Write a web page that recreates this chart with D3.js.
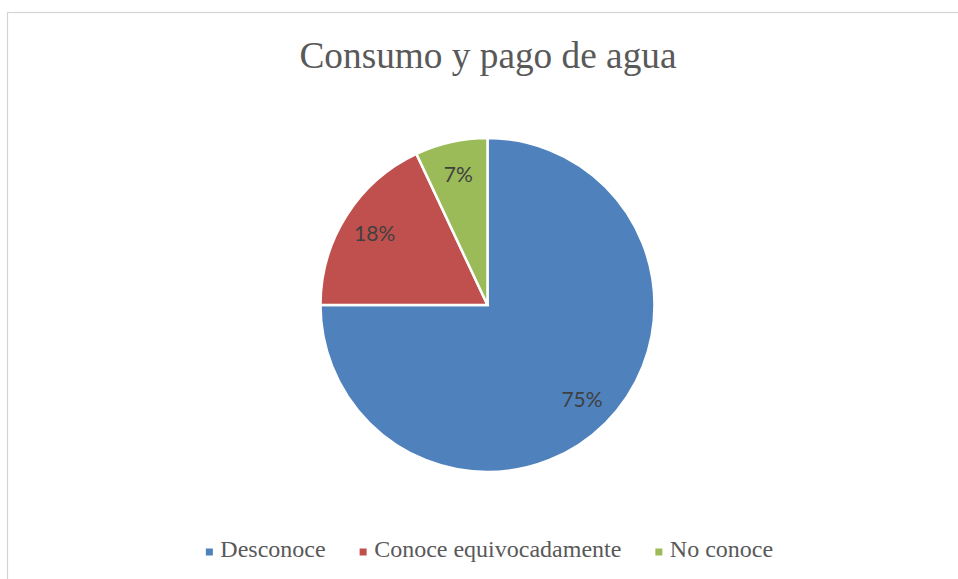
<!DOCTYPE html>
<html>
<head>
<meta charset="utf-8">
<script src="https://cdn.jsdelivr.net/npm/d3@7"></script>
<style>
  html, body { margin: 0; padding: 0; background: #fff; }
  svg { display: block; }
</style>
</head>
<body>
<svg id="chart" width="958" height="579"></svg>
<script>
// Chart data
const title = "Consumo y pago de agua";
const categories = ["Desconoce", "Conoce equivocadamente", "No conoce"];
const values = [75, 18, 7];
const colors = ["#4F81BD", "#C0504D", "#9BBB59"];

const W = 958, H = 579;
const cx = 487.5, cy = 305, radius = 167;
const serif = "'Liberation Serif', 'Times New Roman', Times, serif";

const svg = d3.select("#chart");

// Chart area frame
svg.append("rect")
  .attr("x", 7.5).attr("y", 12.5)
  .attr("width", W).attr("height", H)
  .attr("fill", "#fff")
  .attr("stroke", "#d4d4d4")
  .attr("stroke-width", 1.2);

// Title
svg.append("text")
  .attr("x", 488).attr("y", 67.5)
  .attr("text-anchor", "middle")
  .style("font-family", serif)
  .attr("font-size", 37.3)
  .attr("fill", "#595959")
  .text(title);

// Pie
const total = d3.sum(values);
const pie = d3.pie().sort(null).value(d => d.v);
const arcs = pie(categories.map((c, i) => ({ c, v: values[i], color: colors[i] })));

const arc = d3.arc().innerRadius(0).outerRadius(radius);
const labelArc = d3.arc().innerRadius(radius * 0.8).outerRadius(radius * 0.8);

const g = svg.append("g").attr("transform", `translate(${cx},${cy})`);

g.selectAll("path.slice")
  .data(arcs)
  .join("path")
  .attr("class", "slice")
  .attr("d", arc)
  .attr("fill", d => d.data.color)
  .attr("stroke", "#fff")
  .attr("stroke-width", 2.5)
  .attr("stroke-linejoin", "miter");

g.selectAll("text.lbl")
  .data(arcs)
  .join("text")
  .attr("class", "lbl")
  .attr("transform", d => `translate(${labelArc.centroid(d)})`)
  .attr("text-anchor", "middle")
  .attr("dy", "0.36em")
  .style("font-family", "Lato, 'Open Sans', sans-serif")
  .attr("font-size", 21)
  .attr("fill", "#404040")
  .text(d => Math.round(d.data.v / total * 100) + "%");

// Legend
const legend = svg.append("g");
const items = legend.selectAll("g.item")
  .data(arcs.map(d => d.data))
  .join("g")
  .attr("class", "item");

items.append("rect")
  .attr("width", 7).attr("height", 7)
  .attr("y", -8.5)
  .attr("fill", d => d.color);

items.append("text")
  .attr("x", 14.5)
  .attr("y", 0)
  .style("font-family", serif)
  .attr("font-size", 24)
  .attr("fill", "#595959")
  .text(d => d.c);

// Lay legend entries out in a row, centered
let xPos = 0;
const gap = 34;
items.each(function () {
  const w = this.getBBox().width;
  d3.select(this).attr("transform", `translate(${xPos},0)`);
  xPos += w + gap;
});
const totalW = xPos - gap;
legend.attr("transform", `translate(${489.5 - totalW / 2},557)`);
</script>
</body>
</html>
